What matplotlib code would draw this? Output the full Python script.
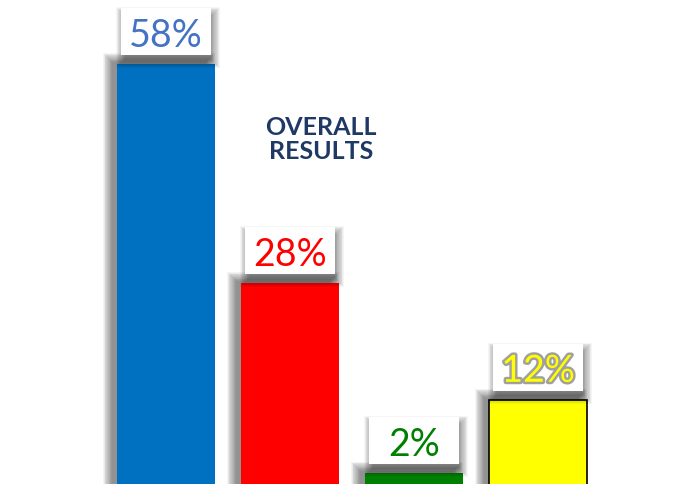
import matplotlib
matplotlib.use('Agg')
import matplotlib.pyplot as plt
from matplotlib.patches import Rectangle
import matplotlib.patheffects as pe
import numpy as np

categories = ['A', 'B', 'C', 'D']
values = [58, 28, 2, 12]
bar_colors = ['#0070C0', '#FF0000', '#008000', '#FFFF00']
label_colors = ['#4472C4', '#FF0000', '#008000', '#FFFF00']
labels = [f'{v}%' for v in values]
title = 'OVERALL\nRESULTS'

W, H = 689, 485
fig = plt.figure(figsize=(W / 100, H / 100), dpi=100)
ax = fig.add_axes([0, 0, 1, 1])
xlim = (-1.3387, 4.2177)
ylim = (0.466, 66.9)
ax.set_xlim(*xlim)
ax.set_ylim(*ylim)
ax.axis('off')

sx = W / (xlim[1] - xlim[0])
sy = H / (ylim[1] - ylim[0])


def px(p):
    return p / sx


def py(p):
    return p / sy


x = np.arange(len(values))
bw = 0.79

# bar shadows (up-left, blurred)
for xi, v in zip(x, values):
    for e in np.linspace(7, -2, 12):
        ax.add_patch(Rectangle((xi - bw / 2 - px(7) - px(e), 0),
                               bw + 2 * px(e), v + py(4) + py(e),
                               facecolor='black', alpha=0.045, lw=0, zorder=1))

# bars
for xi, v, c in zip(x, values, bar_colors):
    ec = 'black' if c == '#FFFF00' else c
    lw = 1.2 if c == '#FFFF00' else 0
    ax.bar(xi, v, width=bw, color=c, edgecolor=ec, linewidth=lw, zorder=2)

# label boxes
bwid = px(90)
bh = py(47)
gap = py(9)
for xi, v, lab, lc in zip(x, values, labels, label_colors):
    y0 = v + gap
    # shadow
    for e in np.linspace(7, -2, 12):
        ax.add_patch(Rectangle((xi - bwid / 2 + px(2) - px(e), y0 - py(6) - py(e)),
                               bwid + 2 * px(e), bh + 2 * py(e),
                               facecolor='black', alpha=0.04, lw=0, zorder=3))
    ax.add_patch(Rectangle((xi - bwid / 2, y0), bwid, bh,
                           facecolor='white', lw=0, zorder=4))
    kw = {}
    if lc == '#FFFF00':
        kw['path_effects'] = [pe.withStroke(linewidth=3.5, foreground='#a0a0a0')]
    ax.text(xi, y0 + bh / 2, lab, ha='center', va='center_baseline',
            fontsize=27, color=lc, family='Lato', zorder=5, **kw)

ax.text(0.466, 0.713, title, transform=ax.transAxes, ha='center', va='center',
        fontsize=18, fontweight='bold', color='#1F3864', family='Lato',
        linespacing=1.05)

fig.savefig('out.png', dpi=100)
